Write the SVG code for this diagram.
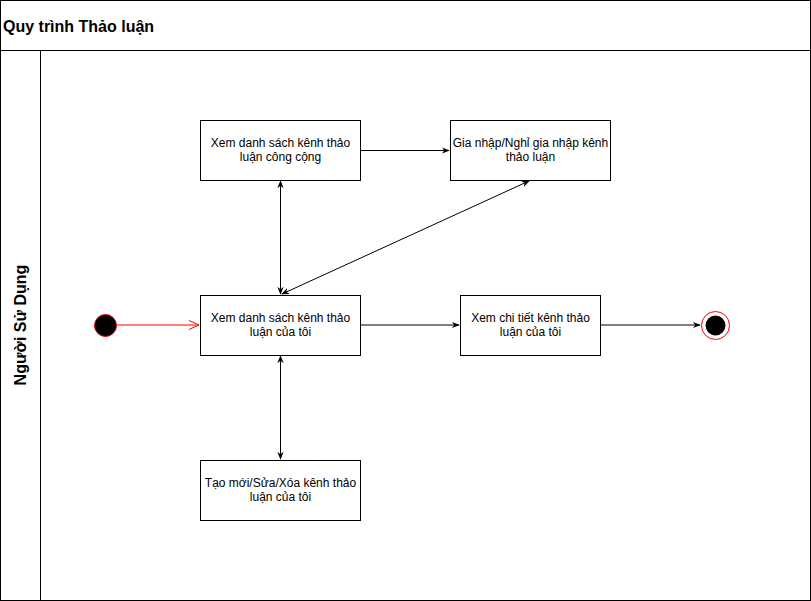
<svg xmlns="http://www.w3.org/2000/svg" width="811" height="601" viewBox="0 0 811 601">
<style>
.box{fill:#fff;stroke:#000;stroke-width:1}
.t{font-family:"Liberation Sans",Arial,sans-serif;font-size:12px;fill:#000;text-anchor:middle}
.h{font-family:"Liberation Sans",Arial,sans-serif;font-size:16px;font-weight:bold;fill:#000}
.e{stroke:#000;stroke-width:1;fill:none}
</style>
<defs>
<marker id="a" viewBox="0 0 10 10" refX="9" refY="5" markerWidth="8" markerHeight="8" orient="auto-start-reverse" markerUnits="userSpaceOnUse">
<path d="M0,1 L10,5 L0,9 L3,5 Z" fill="#000"/>
</marker>
<marker id="ar" viewBox="0 0 10 10" refX="10" refY="5" markerWidth="10" markerHeight="10" orient="auto" markerUnits="userSpaceOnUse">
<path d="M0,0.5 L10,5 L0,9.5" fill="none" stroke="#f00" stroke-width="1"/>
</marker>
</defs>
<g id="pool">
<rect x="0.5" y="0.5" width="810" height="600" fill="#fff" stroke="#000"/>
<line x1="0.5" y1="50.5" x2="810.5" y2="50.5" stroke="#000"/>
<line x1="40.5" y1="50.5" x2="40.5" y2="600.5" stroke="#000"/>
<text class="h" x="3" y="32">Quy trình Thảo luận</text>
<text class="h" x="0" y="0" text-anchor="middle" transform="translate(26,325) rotate(-90)">Người Sử Dụng</text>
</g>
<g id="connectors">
<line class="e" x1="117" y1="325" x2="199" y2="325" style="stroke:#f00" marker-end="url(#ar)"/>
<line class="e" x1="360" y1="150.5" x2="449" y2="150.5" marker-end="url(#a)"/>
<line class="e" x1="280.5" y1="181" x2="280.5" y2="294" marker-start="url(#a)" marker-end="url(#a)"/>
<line class="e" x1="529" y1="181" x2="282" y2="294" marker-start="url(#a)" marker-end="url(#a)"/>
<line class="e" x1="360" y1="325" x2="459" y2="325" marker-end="url(#a)"/>
<line class="e" x1="280.5" y1="356" x2="280.5" y2="459" marker-start="url(#a)" marker-end="url(#a)"/>
<line class="e" x1="600" y1="325" x2="700" y2="325" marker-end="url(#a)"/>
</g>
<g id="start">
<circle cx="105.5" cy="325.5" r="11" fill="#000" stroke="#f00" stroke-width="1"/>
</g>
<g id="end">
<circle cx="715.5" cy="325.5" r="14" fill="#fff" stroke="#f00" stroke-width="1"/>
<circle cx="715.5" cy="325.5" r="10" fill="#000"/>
</g>
<g id="n1">
<rect class="box" x="200.5" y="120.5" width="160" height="60"/>
<text class="t" x="280.5" y="147">Xem danh sách kênh thảo</text>
<text class="t" x="280.5" y="161">luận công cộng</text>
</g>
<g id="n2">
<rect class="box" x="450.5" y="120.5" width="160" height="60"/>
<text class="t" x="530.5" y="147">Gia nhập/Nghỉ gia nhập kênh</text>
<text class="t" x="530.5" y="161">thảo luận</text>
</g>
<g id="n3">
<rect class="box" x="200.5" y="295.5" width="160" height="60"/>
<text class="t" x="280.5" y="322">Xem danh sách kênh thảo</text>
<text class="t" x="280.5" y="336">luận của tôi</text>
</g>
<g id="n4">
<rect class="box" x="460.5" y="295.5" width="140" height="60"/>
<text class="t" x="530.5" y="322">Xem chi tiết kênh thảo</text>
<text class="t" x="530.5" y="336">luận của tôi</text>
</g>
<g id="n5">
<rect class="box" x="200.5" y="460.5" width="160" height="60"/>
<text class="t" x="280.5" y="487">Tạo mới/Sửa/Xóa kênh thảo</text>
<text class="t" x="280.5" y="501">luận của tôi</text>
</g>
</svg>
